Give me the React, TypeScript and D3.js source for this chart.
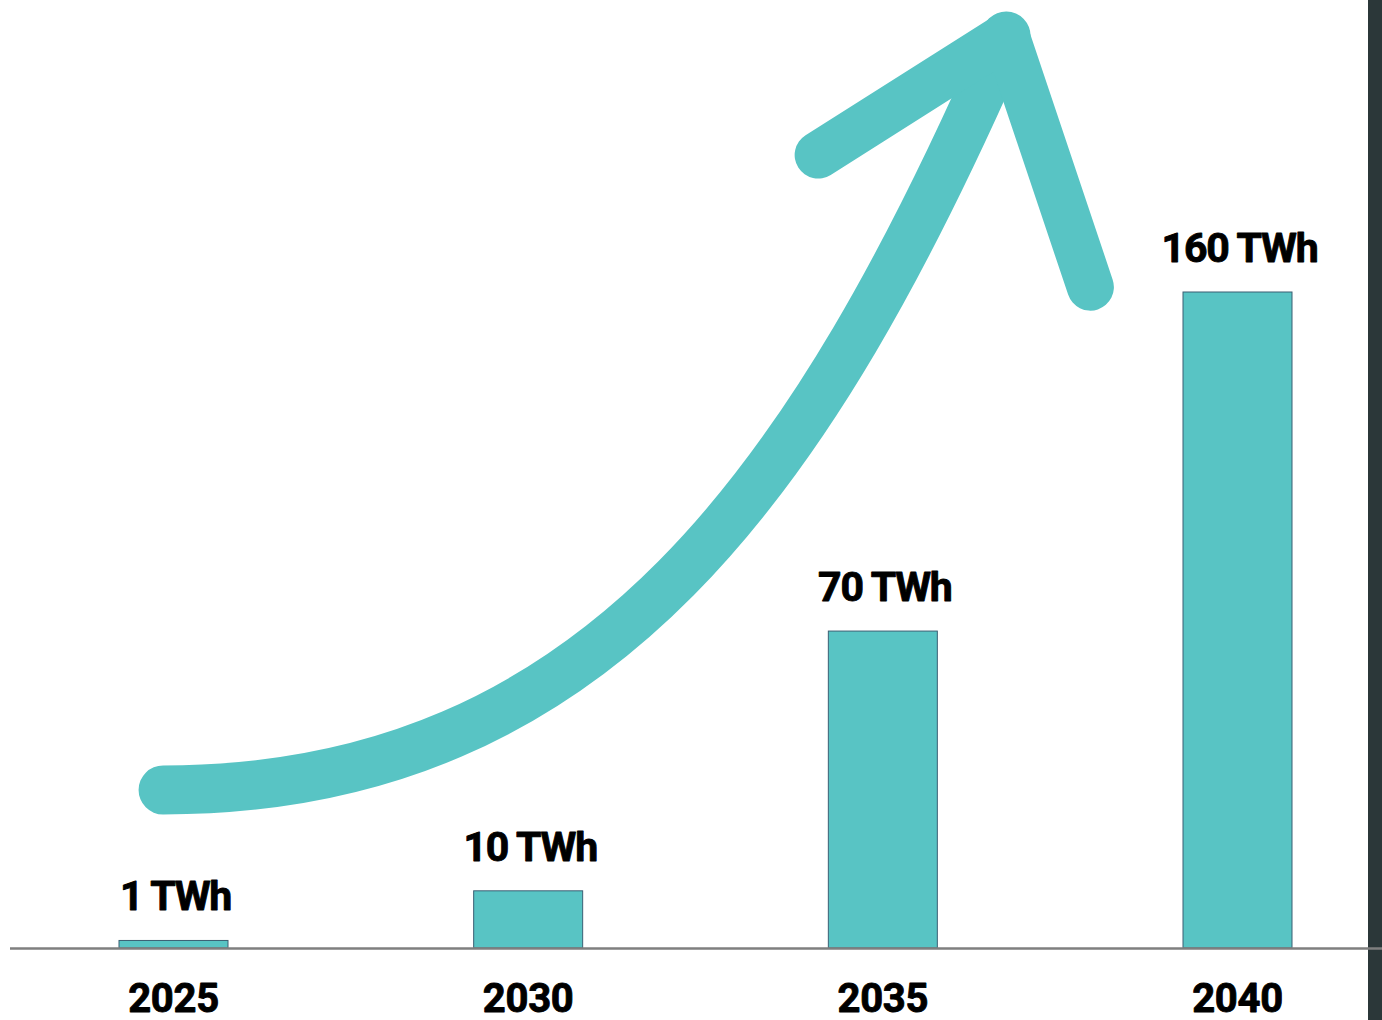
import React from "react";
import * as d3 from "d3";

const years = ["2025", "2030", "2035", "2040"];
const values = [1, 10, 70, 160];
const valueLabels = ["1 TWh", "10 TWh", "70 TWh", "160 TWh"];

// decorative arrow, as fractions of the canvas (x / width, y / height)
const shaftStart: [number, number] = [0.118, 0.7745];
const shaftCtrl1: [number, number] = [0.434, 0.7745];
const shaftCtrl2: [number, number] = [0.589, 0.4667];
const shaftEnd: [number, number] = [0.728, 0.0353];
const arrowHead: [number, number][] = [
  [0.592, 0.152],
  [0.728, 0.0353],
  [0.789, 0.2815],
];

const W = 1382;
const H = 1020;
const TEAL = "#58C4C4";

export default function App() {
  const baseY = 948;
  const x = d3.scalePoint<string>().domain(years).range([173.5, 1237.5]);
  const barW = 109;
  const y = d3.scalePow().exponent(0.88).domain([0, 160]).range([baseY, 292]);

  const sx = d3.scaleLinear().domain([0, 1]).range([0, W]);
  const sy = d3.scaleLinear().domain([0, 1]).range([0, H]);

  const p = d3.path();
  p.moveTo(sx(shaftStart[0]), sy(shaftStart[1]));
  p.bezierCurveTo(
    sx(shaftCtrl1[0]), sy(shaftCtrl1[1]),
    sx(shaftCtrl2[0]), sy(shaftCtrl2[1]),
    sx(shaftEnd[0]), sy(shaftEnd[1])
  );

  const headLine = d3
    .line<[number, number]>()
    .x((d) => sx(d[0]))
    .y((d) => sy(d[1]));

  const font = "Roboto, 'Noto Sans', sans-serif";

  return (
    <div style={{ position: "absolute", left: 0, top: 0 }}>
      <svg width={W} height={H} style={{ display: "block", background: "#fff" }}>
        <rect x={1368} y={0} width={W - 1368} height={H} fill="#2b3739" />
        <path
          d={p.toString()}
          fill="none"
          stroke={TEAL}
          strokeWidth={49}
          strokeLinecap="round"
          strokeLinejoin="round"
        />
        <path
          d={headLine(arrowHead) || ""}
          fill="none"
          stroke={TEAL}
          strokeWidth={47}
          strokeLinecap="round"
          strokeLinejoin="round"
        />
        {years.map((yr, i) => {
          const cx = x(yr) as number;
          const top = y(values[i]);
          return (
            <g key={yr}>
              <rect
                x={cx - barW / 2}
                y={top}
                width={barW}
                height={baseY - top}
                fill={TEAL}
                stroke="#3a5f73"
                strokeWidth={1}
              />
              <text
                x={cx + 2}
                y={top - 30}
                textAnchor="middle"
                fontFamily={font}
                fontWeight={700}
                fontSize={41}
                letterSpacing={-1.2}
                fill="#000"
                stroke="#000"
                strokeWidth={0.9}
                strokeLinejoin="round"
              >
                {valueLabels[i]}
              </text>
              <text
                x={cx}
                y={1012}
                textAnchor="middle"
                fontFamily={font}
                fontWeight={700}
                fontSize={40}
                letterSpacing={-0.3}
                fill="#000"
                stroke="#000"
                strokeWidth={0.9}
                strokeLinejoin="round"
              >
                {yr}
              </text>
            </g>
          );
        })}
        <line x1={10} x2={W} y1={baseY + 0.5} y2={baseY + 0.5} stroke="#7f7f7f" strokeWidth={2.5} />
      </svg>
    </div>
  );
}
